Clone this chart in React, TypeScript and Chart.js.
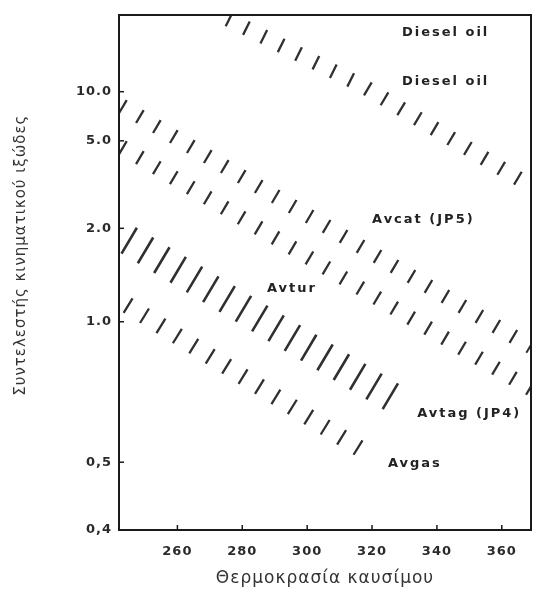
import React, { useEffect, useRef } from "react";
import { Chart, registerables } from "chart.js";

Chart.register(...registerables);

// ASTM-style viscosity axis: log10(log10(v + c)) on a linear scale
const VISC_OFFSET = 0.77;
const toAxis = (v: number) => Math.log10(Math.log10(v + VISC_OFFSET));

const xMin = 242;
const xMax = 369;
const yMinVisc = 0.4;
const yMaxVisc = 45;

const xTickValues = [260, 280, 300, 320, 340, 360];
const xTickLabels = ["260", "280", "300", "320", "340", "360"];
const yTickValues = [0.4, 0.5, 1.0, 2.0, 5.0, 10.0];
const yTickLabels = ["0,4", "0,5", "1.0", "2.0", "5.0", "10.0"];

// band centre lines: temperature / kinematic viscosity
const dieselTemp = [275.6, 317.2, 369.0];
const dieselVisc = [40.9, 10.96, 2.99];
const avcatUpperTemp = [242.9, 369.0];
const avcatUpperVisc = [8.04, 0.86];
const avcatLowerTemp = [242.9, 369.0];
const avcatLowerVisc = [4.63, 0.687];
const avturTemp = [244.8, 328.6];
const avturVisc = [1.81, 0.645];
const avgasTemp = [244.5, 319.4];
const avgasVisc = [1.114, 0.514];

// text notes
const noteTexts = ["Diesel oil", "Diesel oil", "Avcat (JP5)", "Avtur", "Avtag (JP4)", "Avgas"];
const noteTemp = [329.2, 329.2, 320.0, 287.6, 333.9, 324.9];
const noteVisc = [29.8, 11.7, 2.17, 1.25, 0.61, 0.497];

const xTitle = "Θερμοκρασία καυσίμου";
const yTitle = "Συντελεστής κινηματικού ιξώδες";

const INK = "#303030";

const pts = (t: number[], v: number[]) => t.map((tt, i) => ({ x: tt, y: toAxis(v[i]) }));

const band = (label: string, t: number[], v: number[], width: number, dash: number[]) => ({
  label,
  data: pts(t, v),
  borderColor: INK,
  borderWidth: width,
  borderDash: dash,
  borderCapStyle: "butt" as const,
  pointRadius: 0,
  fill: false,
  tension: 0,
});

const decor = {
  id: "decor",
  beforeDraw(chart: any) {
    chart.ctx.letterSpacing = "1px";
  },
  afterDatasetsDraw(chart: any) {
    const { ctx, chartArea: a, scales } = chart;
    const x = scales.x;
    const y = scales.y;
    ctx.save();
    ctx.strokeStyle = "#1a1a1a";
    ctx.lineWidth = 2;
    ctx.strokeRect(a.left, a.top, a.right - a.left, a.bottom - a.top);
    ctx.lineWidth = 1.5;
    x.ticks.forEach((t: any) => {
      const px = x.getPixelForValue(t.value);
      ctx.beginPath();
      ctx.moveTo(px, a.bottom);
      ctx.lineTo(px, a.bottom - 5);
      ctx.stroke();
    });
    y.ticks.forEach((t: any) => {
      const py = y.getPixelForValue(t.value);
      ctx.beginPath();
      ctx.moveTo(a.left, py);
      ctx.lineTo(a.left + 5, py);
      ctx.stroke();
    });
    ctx.fillStyle = "#222";
    ctx.font = 'bold 13px "DejaVu Sans"';
    ctx.letterSpacing = "2px";
    ctx.textAlign = "left";
    ctx.textBaseline = "middle";
    noteTexts.forEach((txt, i) => {
      ctx.fillText(txt, x.getPixelForValue(noteTemp[i]), y.getPixelForValue(toAxis(noteVisc[i])));
    });
    ctx.restore();
  },
};

export default function App() {
  const ref = useRef<HTMLCanvasElement | null>(null);
  useEffect(() => {
    if (!ref.current) return;
    const chart = new Chart(ref.current, {
      type: "line",
      data: {
        datasets: [
          band("Diesel oil", dieselTemp, dieselVisc, 15, [2.3, 17.1]),
          band("Avcat (JP5) upper", avcatUpperTemp, avcatUpperVisc, 15, [2.3, 17.4]),
          band("Avcat (JP5) lower", avcatLowerTemp, avcatLowerVisc, 15, [2.3, 17.4]),
          band("Avtur", avturTemp, avturVisc, 30, [2.6, 16.4]),
          band("Avgas", avgasTemp, avgasVisc, 17, [2.3, 17]),
        ],
      },
      options: {
        animation: false,
        responsive: false,
        devicePixelRatio: 1,
        layout: { padding: { left: 0, right: 2, top: 15, bottom: 0 } },
        plugins: { legend: { display: false }, tooltip: { enabled: false }, title: { display: false } },
        scales: {
          x: {
            type: "linear",
            min: xMin,
            max: xMax,
            grid: { display: false, drawTicks: false },
            border: { display: false },
            afterBuildTicks: (s: any) => {
              s.ticks = xTickValues.map((v) => ({ value: v }));
            },
            afterFit: (s: any) => {
              s.height = 63;
            },
            ticks: {
              autoSkip: false,
              maxRotation: 0,
              padding: 14,
              color: "#2a2a2a",
              font: { family: "DejaVu Sans", size: 13, weight: "bold" },
              callback: (_v: any, i: number) => xTickLabels[i],
            },
            title: {
              display: true,
              text: xTitle,
              color: "#333",
              font: { family: "DejaVu Sans", size: 17 },
              padding: { top: 0, bottom: 4 },
            },
          },
          y: {
            type: "linear",
            min: toAxis(yMinVisc),
            max: toAxis(yMaxVisc),
            grid: { display: false, drawTicks: false },
            border: { display: false },
            afterBuildTicks: (s: any) => {
              s.ticks = yTickValues.map((v) => ({ value: toAxis(v) }));
            },
            afterFit: (s: any) => {
              s.width = 119;
            },
            ticks: {
              padding: 7,
              color: "#2a2a2a",
              font: { family: "DejaVu Sans", size: 13, weight: "bold" },
              callback: (_v: any, i: number) => yTickLabels[i],
            },
            title: {
              display: true,
              text: "      " + yTitle,
              color: "#333",
              font: { family: "DejaVu Sans", size: 15 },
              padding: { top: 12, bottom: 0 },
            },
          },
        },
      },
      plugins: [decor],
    });
    return () => chart.destroy();
  }, []);
  return (
    <div style={{ position: "absolute", left: 0, top: 0, width: 533, height: 593, background: "#fff" }}>
      <canvas ref={ref} width={533} height={593} style={{ filter: "blur(0.35px)" }} />
    </div>
  );
}
